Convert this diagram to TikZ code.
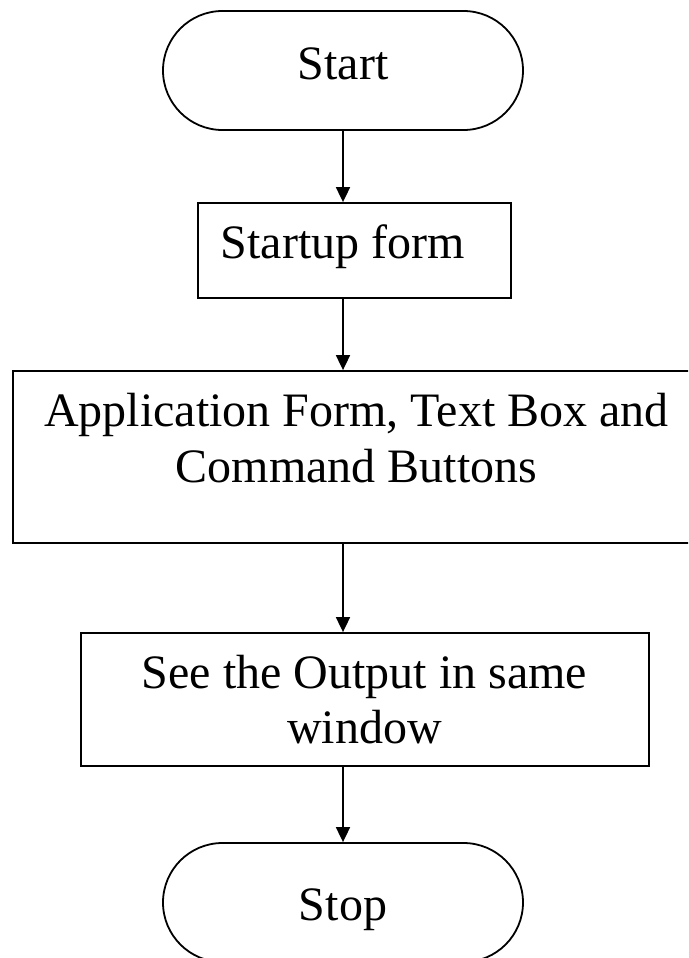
\documentclass[tikz,border=0pt]{standalone}
\usepackage{fontspec}
\setmainfont{Liberation Serif}
\usetikzlibrary{arrows.meta,shapes.misc}
\begin{document}
\begin{tikzpicture}[x=1pt,y=-1pt,line width=1.8pt,
  term/.style={draw, rounded rectangle, minimum width=360pt, minimum height=119pt, inner sep=0pt},
  procbox/.style={draw, rectangle, inner sep=0pt},
  txt/.style={font=\fontsize{48}{56}\selectfont, inner sep=0pt, anchor=base, align=center},
  flow/.style={-{Triangle[length=15pt,width=14pt]}, line width=1.8pt}]
\useasboundingbox (0,0) rectangle (688,958);
\clip (0,0) rectangle (688,958);
% shapes
\node[term] (start) at (343,70.5) {};
\node[procbox, minimum width=313pt, minimum height=95pt] (startup) at (354.5,250.5) {};
\node[procbox, minimum width=687pt, minimum height=172pt] (app) at (356.5,457) {};
\node[procbox, minimum width=568pt, minimum height=133pt] (see) at (365,699.5) {};
\node[term] (stop) at (343,902.5) {};
% texts
\node[txt] (tstart) at (343,80) {Start};
\node[txt, anchor=base west] (tstartup) at (220,258) {Startup form};
\node[txt] (tapp1) at (356.5,426) {Application Form, Text Box and};
\node[txt] (tapp2) at (356.5,482) {Command Buttons};
\node[txt] (tsee1) at (364.5,688) {See the Output in same};
\node[txt] (tsee2) at (364.5,743) {window};
\node[txt] (tstop) at (343,920) {Stop};
% connectors
\draw[flow] (start.south) -- (startup.north -| start.south);
\draw[flow] (startup.south -| start.south) -- (app.north -| start.south);
\draw[flow] (app.south -| start.south) -- (see.north -| start.south);
\draw[flow] (see.south -| start.south) -- (stop.north);
\end{tikzpicture}
\end{document}
